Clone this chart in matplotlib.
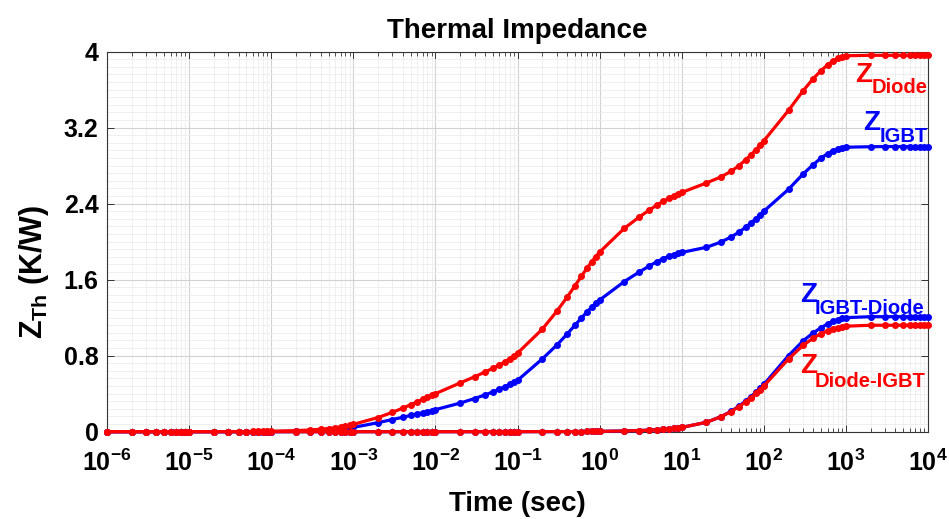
import matplotlib
matplotlib.use("Agg")
import matplotlib.pyplot as plt
from matplotlib.ticker import FixedLocator, FixedFormatter, LogLocator, MultipleLocator, NullFormatter

plt.rcParams['font.family'] = ['Liberation Sans', 'DejaVu Sans']
plt.rcParams['font.weight'] = 'bold'
plt.rcParams['mathtext.fontset'] = 'custom'
plt.rcParams['mathtext.rm'] = 'Liberation Sans:bold'
plt.rcParams['mathtext.bf'] = 'Liberation Sans:bold'
plt.rcParams['mathtext.it'] = 'Liberation Sans:bold'

# sample grid: multipliers 1..9 in each decade, plus the final 1e4 point
decades = [-6, -5, -4, -3, -2, -1, 0, 1, 2, 3]
multipliers = [1, 2, 3, 4, 5, 6, 7, 8, 9]
time = [m * 10.0 ** k for k in decades for m in multipliers] + [1e4]

z_diode = (
    [0, 0, 0, 0, 0, 0, 0, 0, 0]
    + [0.0003, 0.0007, 0.0011, 0.0016, 0.0021, 0.0026, 0.0032, 0.0037, 0.0043]
    + [0.0049, 0.0112, 0.0182, 0.0257, 0.0335, 0.0417, 0.0502, 0.0589, 0.0678]
    + [0.077, 0.149, 0.204, 0.248, 0.284, 0.314, 0.340, 0.363, 0.382]
    + [0.400, 0.513, 0.578, 0.627, 0.667, 0.702, 0.735, 0.766, 0.796]
    + [0.826, 1.078, 1.265, 1.413, 1.534, 1.635, 1.719, 1.787, 1.843]
    + [1.889, 2.140, 2.255, 2.330, 2.385, 2.425, 2.455, 2.480, 2.500]
    + [2.517, 2.617, 2.680, 2.740, 2.800, 2.860, 2.915, 2.965, 3.015]
    + [3.060, 3.380, 3.585, 3.715, 3.800, 3.860, 3.900, 3.928, 3.945]
    + [3.955, 3.960, 3.960, 3.960, 3.960, 3.960, 3.960, 3.960, 3.960]
    + [3.960]
)

z_igbt = (
    [0, 0, 0, 0, 0, 0, 0, 0, 0]
    + [0.0, 0.0001, 0.0002, 0.0004, 0.0005, 0.0007, 0.0008, 0.0010, 0.0012]
    + [0.0014, 0.0040, 0.0074, 0.0114, 0.0159, 0.0209, 0.0264, 0.0322, 0.0384]
    + [0.045, 0.095, 0.128, 0.152, 0.171, 0.187, 0.200, 0.212, 0.222]
    + [0.232, 0.301, 0.349, 0.386, 0.418, 0.446, 0.473, 0.498, 0.521]
    + [0.540, 0.765, 0.910, 1.025, 1.120, 1.195, 1.260, 1.310, 1.350]
    + [1.385, 1.580, 1.677, 1.742, 1.789, 1.822, 1.846, 1.863, 1.876]
    + [1.886, 1.940, 1.995, 2.049, 2.100, 2.150, 2.197, 2.241, 2.282]
    + [2.320, 2.550, 2.710, 2.810, 2.880, 2.926, 2.956, 2.975, 2.986]
    + [2.993, 2.998, 3.000, 3.000, 3.000, 3.000, 3.000, 3.000, 3.000]
    + [3.000]
)

z_igbt_diode = (
    [0] * 9 + [0] * 9 + [0] * 9 + [0] * 9 + [0] * 9
    + [0.0003, 0.0006, 0.0009, 0.0013, 0.0017, 0.0020, 0.0024, 0.0028, 0.0032]
    + [0.0036, 0.0077, 0.0119, 0.0164, 0.0210, 0.0257, 0.0303, 0.0352, 0.0400]
    + [0.045, 0.099, 0.158, 0.215, 0.270, 0.322, 0.370, 0.415, 0.457]
    + [0.497, 0.800, 0.955, 1.040, 1.095, 1.135, 1.162, 1.180, 1.192]
    + [1.200, 1.210, 1.210, 1.210, 1.210, 1.210, 1.210, 1.210, 1.210]
    + [1.210]
)

z_diode_igbt = (
    [0] * 9 + [0] * 9 + [0] * 9 + [0] * 9 + [0] * 9
    + [0.0003, 0.0006, 0.0009, 0.0013, 0.0017, 0.0020, 0.0024, 0.0028, 0.0032]
    + [0.0036, 0.0077, 0.0119, 0.0164, 0.0210, 0.0257, 0.0303, 0.0352, 0.0400]
    + [0.045, 0.099, 0.157, 0.212, 0.264, 0.313, 0.359, 0.402, 0.442]
    + [0.480, 0.766, 0.907, 0.985, 1.032, 1.062, 1.082, 1.095, 1.103]
    + [1.110, 1.120, 1.120, 1.120, 1.120, 1.120, 1.120, 1.120, 1.120]
    + [1.120]
)

x_ticks = [1e-6, 1e-5, 1e-4, 1e-3, 1e-2, 1e-1, 1e0, 1e1, 1e2, 1e3, 1e4]
x_tick_labels = [r'$\mathbf{10^{-6}}$', r'$\mathbf{10^{-5}}$', r'$\mathbf{10^{-4}}$',
                 r'$\mathbf{10^{-3}}$', r'$\mathbf{10^{-2}}$', r'$\mathbf{10^{-1}}$',
                 r'$\mathbf{10^{0}}$', r'$\mathbf{10^{1}}$', r'$\mathbf{10^{2}}$',
                 r'$\mathbf{10^{3}}$', r'$\mathbf{10^{4}}$']
y_ticks = [0, 0.8, 1.6, 2.4, 3.2, 4.0]
y_tick_labels = ['0', '0.8', '1.6', '2.4', '3.2', '4']

RED = '#ff0000'
BLUE = '#0000ff'

fig = plt.figure(figsize=(9.49, 5.19), dpi=100)
W, H = 949, 519
left, right, top, bottom = 107, 928, 51.5, 431.7
ax = fig.add_axes([left / W, 1 - bottom / H, (right - left) / W, (bottom - top) / H])

style = dict(lw=2.3, marker='.', ms=8, clip_on=False, zorder=3)
ax.plot(time, z_igbt, color=BLUE, **style)
ax.plot(time, z_igbt_diode, color=BLUE, **style)
ax.plot(time, z_diode, color=RED, **style)
ax.plot(time, z_diode_igbt, color=RED, **style)

ax.set_xscale('log')
ax.set_xlim(1e-6, 1e4)
ax.set_ylim(0, 4)

ax.xaxis.set_major_locator(FixedLocator(x_ticks))
ax.xaxis.set_major_formatter(FixedFormatter(x_tick_labels))
ax.xaxis.set_minor_locator(LogLocator(base=10, subs=[2, 3, 4, 5, 6, 7, 8, 9], numticks=30))
ax.xaxis.set_minor_formatter(NullFormatter())
ax.yaxis.set_major_locator(FixedLocator(y_ticks))
ax.yaxis.set_major_formatter(FixedFormatter(y_tick_labels))
ax.yaxis.set_minor_locator(MultipleLocator(0.08))

ax.grid(True, which='major', color='#d2d2d2', lw=0.8, zorder=0)
ax.grid(True, which='minor', color='#ececec', lw=0.6, zorder=0)
ax.set_axisbelow(True)

for s in ax.spines.values():
    s.set_color('#333333')
    s.set_linewidth(0.8)

ax.tick_params(which='major', direction='in', length=5, width=0.7, color='#333333',
               top=True, right=True, labelsize=18)
ax.tick_params(axis='y', which='major', pad=6)
ax.tick_params(axis='x', which='major', pad=13)
ax.tick_params(axis='x', which='minor', direction='in', length=3, width=0.6,
               color='#333333', top=True, bottom=True)
ax.tick_params(axis='y', which='minor', length=0)

ax.set_title('Thermal Impedance', fontsize=20, fontweight='bold', pad=10)
ax.set_xlabel('Time (sec)', fontsize=20, fontweight='bold', labelpad=11)
ax.set_ylabel(r'$\mathbf{Z_{Th}}$ (K/W)', fontsize=22, fontweight='bold')
ax.yaxis.set_label_coords(-0.068, 0.42)

def fx(px):
    return (px - left) / (right - left)

def fy(py):
    return (bottom - py) / (bottom - top)

labels = [
    ('Z', 'Diode', RED, 855, 82, 872, 93),
    ('Z', 'IGBT', BLUE, 863, 130, 880, 142),
    ('Z', 'IGBT-Diode', BLUE, 800, 302, 815, 314),
    ('Z', 'Diode-IGBT', RED, 800, 373, 815, 387),
]
for main, sub, col, zx, zy, sx, sy in labels:
    ax.text(fx(zx), fy(zy), main, color=col, fontsize=20, fontweight='bold',
            transform=ax.transAxes, ha='left', va='baseline')
    ax.text(fx(sx), fy(sy), sub, color=col, fontsize=14.5, fontweight='bold',
            transform=ax.transAxes, ha='left', va='baseline')

fig.savefig('out.png', dpi=100)
